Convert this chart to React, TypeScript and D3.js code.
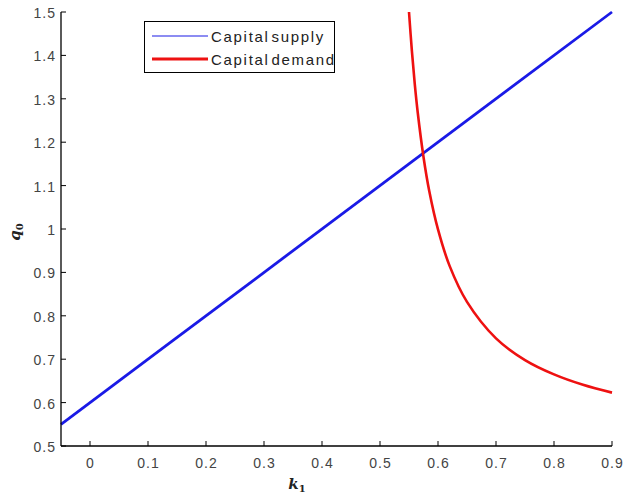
import React from 'react'
import * as d3 from 'd3'

// blue line: capital supply (straight, slope 1)
const supplyK = [-0.05, 0.13, 0.9]
const supplyQ = [0.55, 0.73, 1.5]

// red curve: capital demand
const demandK = [0.55, 0.555, 0.56, 0.565, 0.575, 0.585, 0.6, 0.62, 0.65, 0.7, 0.75, 0.8, 0.85, 0.9]
const demandQ = [1.5, 1.41, 1.333, 1.269, 1.166, 1.087, 0.999, 0.915, 0.832, 0.748, 0.698, 0.665, 0.641, 0.623]

const xTicks = [0, 0.1, 0.2, 0.3, 0.4, 0.5, 0.6, 0.7, 0.8, 0.9]
const yTicks = [0.5, 0.6, 0.7, 0.8, 0.9, 1, 1.1, 1.2, 1.3, 1.4, 1.5]

const W = 623
const H = 495
const margin = { top: 12, right: 11, bottom: 49, left: 61 }

export default function App() {
  const x = d3.scaleLinear().domain([-0.05, 0.9]).range([margin.left, W - margin.right])
  const y = d3.scaleLinear().domain([0.5, 1.5]).range([H - margin.bottom, margin.top])

  const line = d3.line<[number, number]>()
    .x(d => x(d[0]))
    .y(d => y(d[1]))

  const smooth = d3.line<[number, number]>()
    .x(d => x(d[0]))
    .y(d => y(d[1]))
    .curve(d3.curveCatmullRom)

  const supply = supplyK.map((k, i) => [k, supplyQ[i]] as [number, number])
  const demand = demandK.map((k, i) => [k, demandQ[i]] as [number, number])

  const font = '"Liberation Sans", Arial, sans-serif'
  const x0 = margin.left
  const yB = H - margin.bottom

  return (
    <svg width={W} height={H} style={{ position: 'absolute', left: 0, top: 0, background: '#fff' }}>
      <defs>
        <clipPath id="legclip">
          <rect x={145} y={22} width={189} height={50} />
        </clipPath>
      </defs>
      <path d={line(supply) ?? ''} fill="none" stroke="#1a1ae6" strokeWidth={2.8} />
      <path d={smooth(demand) ?? ''} fill="none" stroke="#ee1111" strokeWidth={2.6} />

      {/* axes */}
      <line x1={x0} x2={x0} y1={margin.top} y2={yB} stroke="#000" strokeWidth={1.3} />
      <line x1={x0} x2={W - margin.right} y1={yB} y2={yB} stroke="#000" strokeWidth={1.3} />
      {yTicks.map(t => (
        <g key={'y' + t}>
          <line x1={x0} x2={x0 + 5} y1={y(t)} y2={y(t)} stroke="#000" />
          <text x={x0 - 5} y={y(t) + 6} textAnchor="end" fontFamily={font} fontSize={14} letterSpacing={1} fill="#444">{t}</text>
        </g>
      ))}
      {xTicks.map(t => (
        <g key={'x' + t}>
          <line x1={x(t)} x2={x(t)} y1={yB} y2={yB - 5} stroke="#000" />
          <text x={x(t) + 0.5} y={yB + 22} textAnchor="middle" fontFamily={font} fontSize={14} letterSpacing={1} fill="#444">{t}</text>
        </g>
      ))}
      <text x={297} y={489} textAnchor="middle" fontFamily="'DejaVu Serif', serif" fontWeight="bold" fontStyle="italic" fontSize={15} fill="#222">
        k<tspan fontSize={10} dy={3} fontStyle="normal">1</tspan>
      </text>
      <text transform="translate(20,232) rotate(-90)" textAnchor="middle" fontFamily="'DejaVu Serif', serif" fontWeight="bold" fontStyle="italic" fontSize={15} fill="#222">
        q<tspan fontSize={10} dy={3} fontStyle="normal">0</tspan>
      </text>

      {/* legend */}
      <rect x={144.5} y={21.5} width={190} height={51} fill="#fff" stroke="#000" />
      <g clipPath="url(#legclip)">
        <line x1={152} x2={208} y1={36} y2={36} stroke="#1a1ae6" strokeWidth={1.2} />
        <line x1={152} x2={208} y1={59} y2={59} stroke="#ee1111" strokeWidth={2.8} />
        <text x={211} y={42} fontFamily={font} fontSize={15} fill="#222" letterSpacing={1.7} wordSpacing={-4}>Capital supply</text>
        <text x={211} y={65} fontFamily={font} fontSize={15} fill="#222" letterSpacing={1.7} wordSpacing={-4}>Capital demand</text>
      </g>
    </svg>
  )
}
